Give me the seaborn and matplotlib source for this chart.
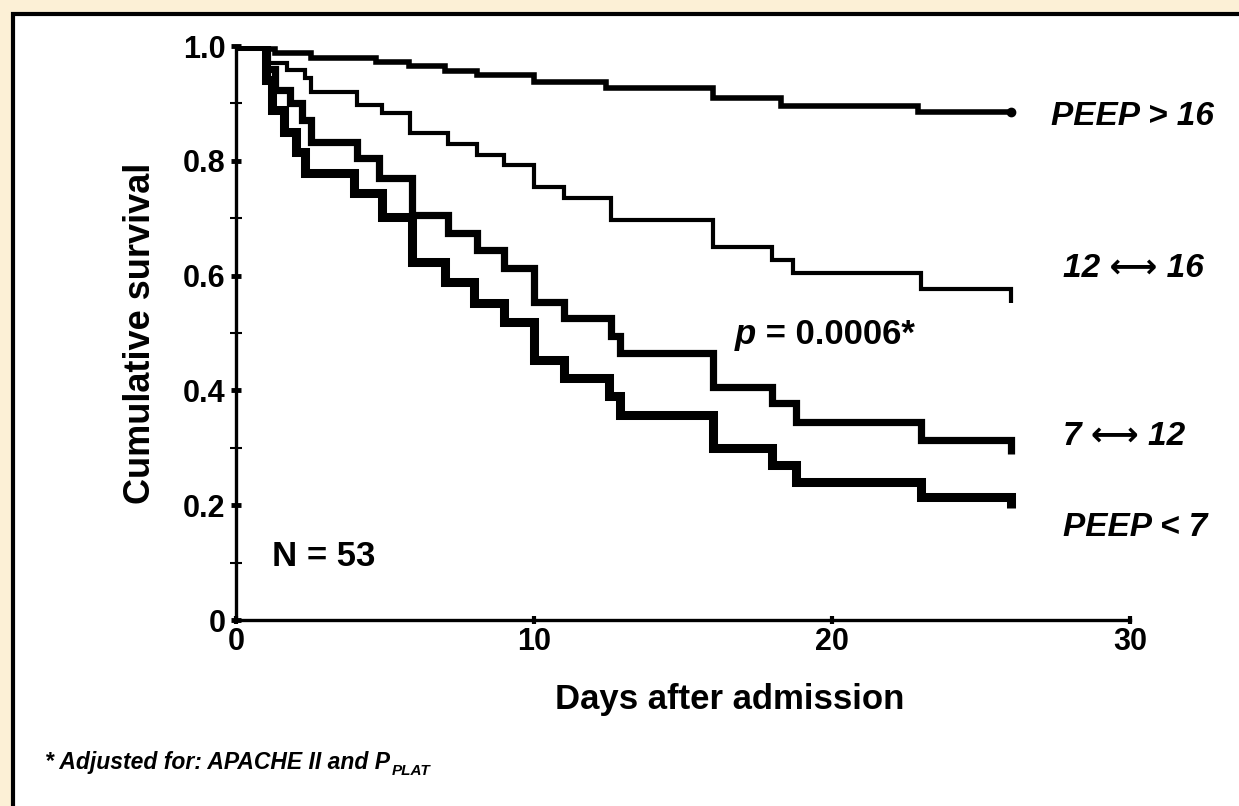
import matplotlib
matplotlib.use("Agg")
import matplotlib.pyplot as plt
import seaborn as sns
import pandas as pd
from matplotlib.patches import Rectangle

# ---- data ----
days_gt16 = [0, 1.0, 1.3, 2.5, 4.7, 5.8, 7.0, 8.1, 10.0, 12.4, 16.0, 18.3, 22.9, 26.0]
surv_gt16 = [1.0, 0.995, 0.988, 0.979, 0.972, 0.966, 0.956, 0.949, 0.938, 0.926, 0.910, 0.895, 0.885, 0.885]

days_12_16 = [0, 1.1, 1.7, 2.3, 2.5, 4.05, 4.9, 5.85, 7.1, 8.1, 9.0, 10.0, 11.0, 12.6, 16.0, 18.0, 18.7, 23.0, 26.0]
surv_12_16 = [1.0, 0.97, 0.958, 0.944, 0.92, 0.897, 0.883, 0.848, 0.83, 0.81, 0.793, 0.755, 0.735, 0.697, 0.65, 0.627, 0.605, 0.577, 0.553]

days_7_12 = [0, 1.0, 1.3, 1.8, 2.2, 2.5, 4.05, 4.8, 5.9, 7.1, 8.1, 9.0, 10.0, 11.0, 12.6, 12.9, 16.0, 18.0, 18.8, 23.0, 26.0]
surv_7_12 = [1.0, 0.96, 0.923, 0.9, 0.871, 0.833, 0.805, 0.77, 0.706, 0.674, 0.645, 0.613, 0.554, 0.526, 0.495, 0.465, 0.406, 0.378, 0.345, 0.314, 0.29]

days_lt7 = [0, 1.0, 1.2, 1.6, 2.0, 2.3, 3.95, 4.9, 5.9, 7.0, 8.0, 9.0, 10.0, 11.0, 12.5, 12.9, 16.0, 18.0, 18.8, 23.0, 26.0]
surv_lt7 = [1.0, 0.94, 0.888, 0.85, 0.815, 0.779, 0.744, 0.702, 0.624, 0.589, 0.552, 0.519, 0.453, 0.422, 0.39, 0.357, 0.30, 0.27, 0.24, 0.214, 0.195]

group_labels = ["PEEP > 16", "12 \u27F7 16", "7 \u27F7 12", "PEEP < 7"]
label_x = [27.35, 27.75, 27.75, 27.75]
label_y = [0.878, 0.613, 0.319, 0.162]

y_ticks = [0, 0.2, 0.4, 0.6, 0.8, 1.0]
y_ticklabels = ["0", "0.2", "0.4", "0.6", "0.8", "1.0"]
x_ticks = [0, 10, 20, 30]

sns.set_style("ticks")
plt.rcParams["font.family"] = ["Liberation Sans", "DejaVu Sans"]
plt.rcParams["text.color"] = "black"
plt.rcParams["axes.labelcolor"] = "black"
plt.rcParams["xtick.color"] = "black"
plt.rcParams["ytick.color"] = "black"

fig = plt.figure(figsize=(12.39, 8.06), dpi=100)
fig.patch.set_facecolor("#FCF0D6")
# white panel with black frame (behind everything)
frame = Rectangle((13.5 / 1239, -0.02), 1.05, 1 - 13.5 / 806 + 0.02,
                  transform=fig.transFigure, facecolor="white",
                  edgecolor="black", linewidth=3, zorder=-10)
fig.patches.append(frame)

ax = fig.add_axes([236 / 1239, 1 - 620 / 806, (1130 - 236) / 1239, (620 - 46) / 806])
ax.set_facecolor("none")
ax.set_zorder(1)

series = [
    (days_gt16, surv_gt16, 4.0),
    (days_12_16, surv_12_16, 3.0),
    (days_7_12, surv_7_12, 5.2),
    (days_lt7, surv_lt7, 6.5),
]
for d, s, lw in series:
    df = pd.DataFrame({"day": d, "surv": s})
    sns.lineplot(data=df, x="day", y="surv", ax=ax, color="black",
                 linewidth=lw, drawstyle="steps-post", estimator=None,
                 sort=False, solid_joinstyle="miter", solid_capstyle="butt")

# end dot of top curve
ax.plot(days_gt16[-1:], surv_gt16[-1:], "o", color="black", ms=6)

ax.set_xlim(0, 30)
ax.set_ylim(0, 1.0)
ax.set_xticks(x_ticks)
ax.set_xticklabels([str(t) for t in x_ticks], fontsize=22, fontweight="bold")
ax.set_yticks(y_ticks)
ax.set_yticklabels(y_ticklabels, fontsize=22, fontweight="bold")
ax.set_yticks([0.1, 0.3, 0.5, 0.7, 0.9], minor=True)
ax.tick_params(axis="y", which="major", direction="inout", length=7, width=3.5, pad=4)
ax.tick_params(axis="y", which="minor", direction="inout", length=9, width=1.5)
ax.tick_params(axis="x", which="major", direction="inout", length=6, width=3.0, pad=2)

for side in ["top", "right"]:
    ax.spines[side].set_visible(False)
for side in ["left", "bottom"]:
    ax.spines[side].set_linewidth(2.4)
    ax.spines[side].set_color("black")

ax.set_xlabel("Days after admission", fontsize=25, fontweight="bold")
ax.xaxis.set_label_coords((730 - 236) / 894, -(700 - 620) / 574, transform=ax.transAxes)
ax.set_ylabel("Cumulative survival", fontsize=26, fontweight="bold")
ax.yaxis.set_label_coords(-(236 - 140) / 894, 0.5, transform=ax.transAxes)
ax.xaxis.label.set_va("center")
ax.yaxis.label.set_va("center")

for lab, xx, yy in zip(group_labels, label_x, label_y):
    ax.text(xx, yy, lab, fontsize=24, fontweight="bold", fontstyle="italic",
            ha="left", va="center", clip_on=False)

tp = ax.text(16.75, 0.497, "p", fontsize=25, fontweight="bold", fontstyle="italic",
             ha="left", va="center")
ax.annotate(" = 0.0006*", xy=(1, 0.5), xycoords=tp, fontsize=25, fontweight="bold",
            ha="left", va="center")
ax.text(1.2, 0.11, "N = 53", fontsize=25, fontweight="bold", ha="left", va="center")

tf = fig.text(45 / 1239, 1 - 769 / 806, "* Adjusted for: APACHE II and P",
              fontsize=16.5, fontweight="bold", fontstyle="italic", ha="left", va="baseline")
ax.annotate("PLAT", xy=(1, 0), xycoords=tf, xytext=(1, -3), textcoords="offset points",
            fontsize=11, fontweight="bold", fontstyle="italic", ha="left", va="bottom",
            annotation_clip=False)

fig.savefig("out.png", dpi=100, facecolor=fig.get_facecolor())
